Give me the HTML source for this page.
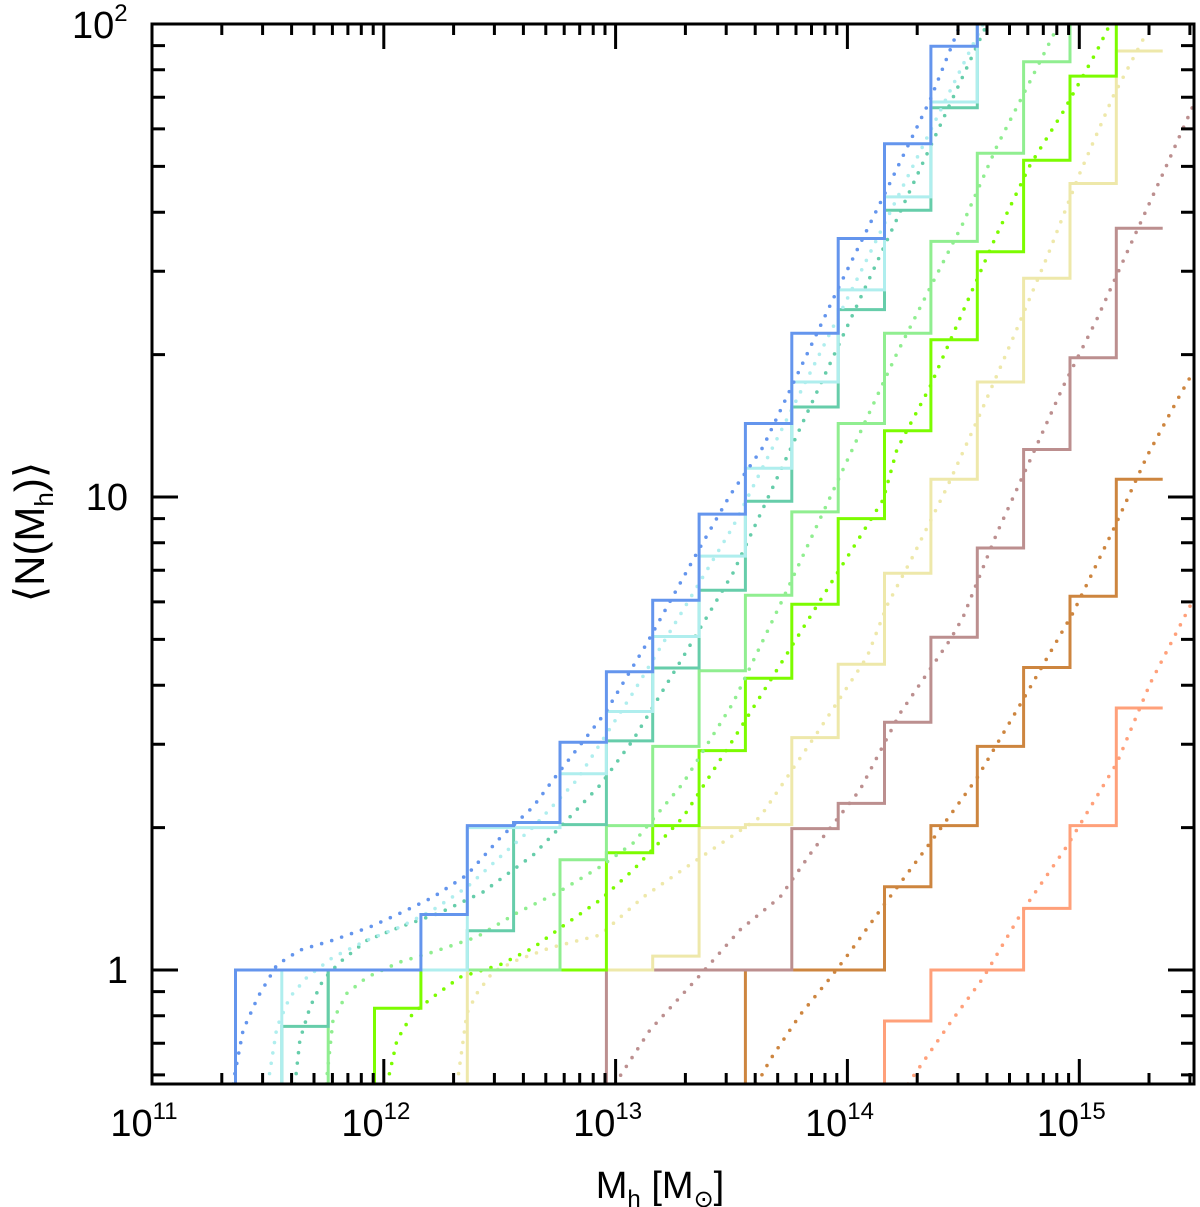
<!DOCTYPE html>
<html><head><meta charset="utf-8"><style>
html,body{margin:0;padding:0;background:#fff;}
svg{display:block;font-family:"Liberation Sans","DejaVu Sans",sans-serif;}
</style></head><body>
<svg id="chart" width="1200" height="1207" viewBox="0 0 1200 1207">
<defs><clipPath id="plotclip"><rect x="152" y="24" width="1042" height="1060"/></clipPath></defs>
<g id="series" clip-path="url(#plotclip)"></g>
<g id="axes"></g>
</svg>
<script>
// ---- data ----
const binStart = 11.36;
const binWidth = 0.2;
const colors = ["#6495ed","#afeeee","#66cdaa","#90ee90","#7cfc00","#eee8aa","#bc8f8f","#cd853f","#ffa07a"];
const seriesNames = ["blue","turquoise","aquamarine","lightgreen","lawngreen","goldenrod","rosybrown","peru","salmon"];
const histStartBin = [0,1,1,2,3,5,8,11,14];
const histBlue = [1,1,1,1,1.31,2.02,2.05,3.03,4.27,6.05,9.2,14.3,22.2,35.2,55.8,89.7,130];
const histTurq = [1,1,1,1,2.0,2.0,2.6,3.52,5.07,7.5,11.5,17.5,27.4,43.1,68.4,130];
const histAqua = [0.76,1,1,1,1.21,2.05,2.03,3.05,4.35,6.35,9.8,15.5,24.9,40.4,66.5,130];
const histLightGreen = [1,1,1,1,1,1.71,2.02,2.97,4.29,6.2,9.3,14.3,22.2,34.7,53.3,83.2,130];
const histLawnGreen = [0.83,1,1,1,1,1.77,2.02,2.91,4.14,5.93,9.0,13.8,21.5,33.0,51.5,77.6,130];
const histGoldenrod = [1,1,1,1,1.07,2.0,2.03,3.1,4.43,6.9,10.9,17.5,29.0,46.0,87.7];
const histRosy = [1,1,1,1,1.99,2.25,3.34,5.05,7.8,12.6,19.7,37.0];
const histPeru = [1,1,1,1.50,2.02,2.97,4.36,6.17,10.9];
const histSalmon = [0.78,1,1,1.35,2.02,3.58];
// model curves: log10(M) and log10(N)
const modBlueM = [11.349,11.393,11.457,11.539,11.638,11.781,11.940,12.083,12.212,12.359,12.501,12.644,12.730,12.954,13.135,13.351,13.494,13.636,13.955,14.154,14.356,14.486];
const modBlueN = [-0.241,-0.127,-0.057,0.011,0.042,0.063,0.091,0.123,0.154,0.201,0.279,0.345,0.402,0.543,0.691,0.882,1.004,1.106,1.436,1.634,1.839,1.998];
const modTurqM = [11.500,11.539,11.595,11.669,11.781,11.928,12.070,12.212,12.359,12.501,12.644,12.833,13.075,13.291,13.506,14.046,14.585];
const modTurqN = [-0.241,-0.121,-0.057,-0.015,0.027,0.063,0.091,0.127,0.175,0.239,0.302,0.402,0.586,0.761,0.937,1.465,2.0];
const modAquaM = [11.617,11.638,11.682,11.738,11.811,11.928,12.070,12.242,12.428,12.644,12.790,12.933,13.075,13.291,13.506,13.653,14.128,14.602];
const modAquaN = [-0.241,-0.148,-0.078,-0.021,0.017,0.063,0.091,0.121,0.165,0.243,0.317,0.391,0.486,0.662,0.839,0.994,1.497,2.0];
const modLightGreenM = [11.751,11.781,11.841,11.928,12.070,12.212,12.402,12.575,12.747,12.933,13.075,13.291,13.506,13.722,14.214,14.356,14.499,14.645,14.788,14.904];
const modLightGreenN = [-0.241,-0.106,-0.049,-0.015,0.017,0.038,0.070,0.121,0.163,0.218,0.268,0.395,0.564,0.785,1.304,1.442,1.579,1.742,1.879,1.992];
const modLawnGreenM = [12.014,12.057,12.126,12.212,12.329,12.501,12.644,12.790,12.933,13.075,13.291,13.506,13.722,13.938,14.154,14.214,14.356,14.499,14.645,14.788,14.930,15.077,15.133];
const modLawnGreenN = [-0.241,-0.148,-0.091,-0.057,-0.015,0.011,0.047,0.099,0.148,0.211,0.323,0.486,0.655,0.825,0.994,1.101,1.233,1.393,1.556,1.702,1.814,1.944,2.0];
const modGoldenrodM = [12.316,12.359,12.402,12.471,12.575,12.717,12.933,13.118,13.351,13.623,13.869,14.085,14.171,14.283,14.430,14.572,14.714,14.861,15.003,15.146,15.293];
const modGoldenrodN = [-0.241,-0.091,-0.049,-0.004,0.021,0.047,0.074,0.154,0.233,0.323,0.501,0.662,0.771,0.875,1.021,1.175,1.336,1.507,1.685,1.847,1.984];
const modRosyM = [12.997,13.148,13.364,13.537,13.709,13.852,14.054,14.227,14.443,14.499,14.645,14.788,14.930,15.077,15.219,15.362,15.491];
const modRosyN = [-0.241,-0.127,-0.011,0.085,0.154,0.254,0.381,0.543,0.698,0.746,0.924,1.078,1.233,1.377,1.531,1.685,1.827];
const modPeruM = [13.610,13.666,13.796,13.925,14.011,14.154,14.369,14.559,14.758,14.973,15.146,15.293,15.435,15.491];
const modPeruN = [-0.241,-0.190,-0.095,-0.017,0.038,0.135,0.277,0.406,0.572,0.755,0.930,1.087,1.216,1.264];
const modSalmonM = [14.261,14.443,14.585,14.758,14.947,15.163,15.305,15.491];
const modSalmonN = [-0.241,-0.112,-0.017,0.127,0.262,0.438,0.605,0.782];
const xTickDecades = [11,12,13,14,15];
const yTickLabels = [{v:1,t:"1"},{v:10,t:"10"}];

// ---- axes functions ----
const X0=152, X1=1194, LMIN=11, LMAX=15.495;
const Y0=970, YDEC=473, YTOP=24, YBOT=1084;
function xs(logm){return X0+(logm-LMIN)*(X1-X0)/(LMAX-LMIN);}
function ysLog(logn){return Y0-logn*YDEC;}
function ys(n){return ysLog(Math.log10(n));}
const NS="http://www.w3.org/2000/svg";
function mk(tag,attrs,parent){const e=document.createElementNS(NS,tag);for(const k in attrs)e.setAttribute(k,attrs[k]);parent.appendChild(e);return e;}

const series=document.getElementById('series');
const hists=[histBlue,histTurq,histAqua,histLightGreen,histLawnGreen,histGoldenrod,histRosy,histPeru,histSalmon];
const modM=[modBlueM,modTurqM,modAquaM,modLightGreenM,modLawnGreenM,modGoldenrodM,modRosyM,modPeruM,modSalmonM];
const modN=[modBlueN,modTurqN,modAquaN,modLightGreenN,modLawnGreenN,modGoldenrodN,modRosyN,modPeruN,modSalmonN];

for(let s=hists.length-1;s>=0;s--){
  const h=hists[s];
  let d="M"+xs(binStart+histStartBin[s]*binWidth).toFixed(1)+","+(YBOT+5);
  for(let i=0;i<h.length;i++){
    const xl=xs(binStart+(histStartBin[s]+i)*binWidth), xr=xs(binStart+(histStartBin[s]+i+1)*binWidth), y=Math.max(ys(h[i]),YTOP-10);
    d+=" L"+xl.toFixed(1)+","+y.toFixed(1)+" L"+xr.toFixed(1)+","+y.toFixed(1);
  }
  const p=mk('path',{d:d,fill:"none",stroke:colors[s],"stroke-width":3},series);
  
  
  let dm="";
  for(let i=0;i<modM[s].length;i++){dm+=(i?" L":"M")+xs(modM[s][i]).toFixed(1)+","+ysLog(modN[s][i]).toFixed(1);}
  const q=mk('path',{d:dm,fill:"none",stroke:colors[s],"stroke-width":3.6,"stroke-linecap":"round","stroke-dasharray":"0 10.5"},series);
  
  
}

// ---- axes ----
const axes=document.getElementById('axes');
const frame=mk('rect',{x:X0,y:YTOP,width:X1-X0,height:YBOT-YTOP,fill:"none",stroke:"#000","stroke-width":3},axes);


let td="";
for(let dec=11;dec<=15;dec++){
  for(let m=1;m<=9;m++){
    const lx=dec+Math.log10(m); if(lx>LMAX)continue;
    const x=xs(lx), L=(m===1)?25:11;
    td+=`M${x.toFixed(1)},${YBOT} v${-L} M${x.toFixed(1)},${YTOP} v${L} `;
  }
}
for(let dec=-1;dec<=1;dec++){
  for(let m=1;m<=9;m++){
    const ln=dec+Math.log10(m); if(ln<-0.241||ln>2)continue;
    const y=ysLog(ln), L=(m===1)?26:13;
    td+=`M${X0},${y.toFixed(1)} h${L} M${X1},${y.toFixed(1)} h${-L} `;
  }
}
const ticks=mk('path',{d:td,stroke:"#000","stroke-width":3,fill:"none"},axes);


xTickDecades.forEach(dec=>{
  const t=mk('text',{x:xs(dec)-8,y:1136,"font-size":38,"text-anchor":"middle",fill:"#000"},axes);
  t.textContent="10";
  const sup=mk('tspan',{dy:-17,"font-size":24},t);
  sup.textContent=String(dec);
  
  
});
yTickLabels.forEach(o=>{
  const t=mk('text',{x:128,y:ys(o.v)+13,"font-size":38,"text-anchor":"end",fill:"#000"},axes);
  t.textContent=o.t;
  
  
});
const t100=mk('text',{x:72,y:38,"font-size":38,fill:"#000"},axes);
t100.textContent="10";
const s100=mk('tspan',{dy:-17,"font-size":24},t100);
s100.textContent="2";


</script>
<svg style="position:absolute;left:0;top:0" width="1200" height="1207">
<text x="660" y="1198" font-size="38" text-anchor="middle" font-family="Liberation Sans, DejaVu Sans, sans-serif">M<tspan font-size="24" dy="9">h</tspan><tspan dy="-9"> [M</tspan><tspan font-size="24" dy="9">⊙</tspan><tspan dy="-9">]</tspan></text>
<text transform="translate(44,532) rotate(-90)" font-size="42" text-anchor="middle" font-family="Liberation Sans, DejaVu Sans, sans-serif">⟨N(M<tspan font-size="26" dy="9">h</tspan><tspan dy="-9">)⟩</tspan></text>
</svg>
</body></html>
